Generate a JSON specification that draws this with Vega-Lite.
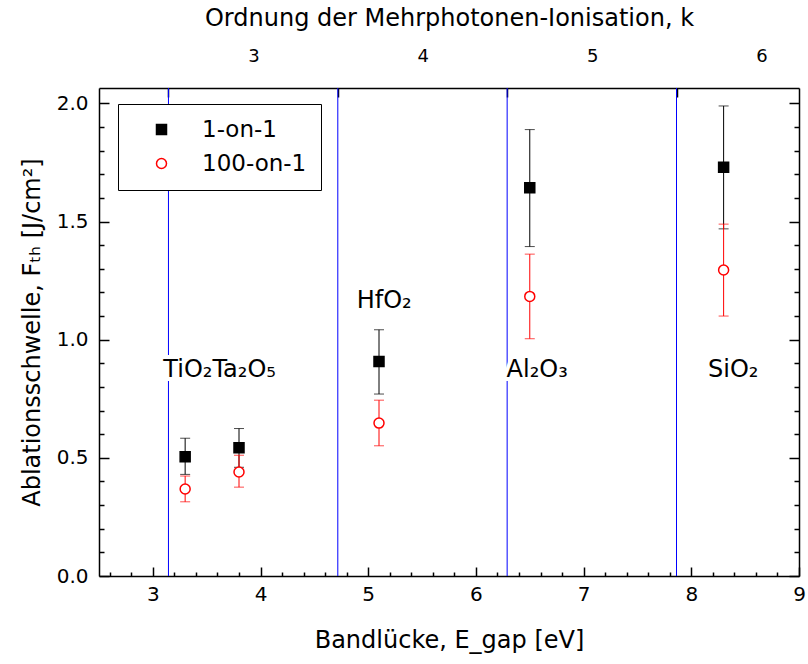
{
  "$schema": "https://vega.github.io/schema/vega-lite/v6.json",
  "width": 700,
  "height": 488,
  "autosize": {"type": "none"},
  "padding": {"left": 99, "top": 88, "right": 9, "bottom": 88},
  "background": "white",
  "config": {
    "font": "DejaVu Sans",
    "view": {"stroke": null},
    "axis": {
      "grid": false,
      "domainColor": "black",
      "domainWidth": 1.5,
      "tickColor": "black",
      "tickWidth": 1.5,
      "labelColor": "black",
      "titleColor": "black",
      "labelFont": "DejaVu Sans",
      "titleFont": "DejaVu Sans",
      "titleFontWeight": "normal",
      "labelFontSize": 20,
      "titleFontSize": 24,
      "labelFlush": false,
      "labelOverlap": false,
      "labelAngle": 0
    },
    "legend": {
      "orient": "none",
      "legendX": 19,
      "legendY": 16,
      "strokeColor": "black",
      "fillColor": "white",
      "padding": 14,
      "labelFontSize": 23,
      "labelFont": "DejaVu Sans",
      "labelColor": "black",
      "symbolSize": 100,
      "symbolStrokeWidth": 1.5,
      "symbolOffset": 18,
      "labelOffset": 29,
      "rowPadding": 10,
      "labelLimit": 300
    }
  },
  "datasets": {
    "pts": [
      {"material": "TiO2", "E": 3.3, "series": "1-on-1", "F": 0.505, "lo": 0.43, "hi": 0.583},
      {"material": "TiO2", "E": 3.3, "series": "100-on-1", "F": 0.368, "lo": 0.314, "hi": 0.423},
      {"material": "Ta2O5", "E": 3.8, "series": "1-on-1", "F": 0.543, "lo": 0.46, "hi": 0.624},
      {"material": "Ta2O5", "E": 3.8, "series": "100-on-1", "F": 0.44, "lo": 0.376, "hi": 0.511},
      {"material": "HfO2", "E": 5.1, "series": "1-on-1", "F": 0.908, "lo": 0.77, "hi": 1.042},
      {"material": "HfO2", "E": 5.1, "series": "100-on-1", "F": 0.647, "lo": 0.551, "hi": 0.744},
      {"material": "Al2O3", "E": 6.5, "series": "1-on-1", "F": 1.643, "lo": 1.394, "hi": 1.889},
      {"material": "Al2O3", "E": 6.5, "series": "100-on-1", "F": 1.183, "lo": 1.004, "hi": 1.362},
      {"material": "SiO2", "E": 8.3, "series": "1-on-1", "F": 1.73, "lo": 1.469, "hi": 1.989},
      {"material": "SiO2", "E": 8.3, "series": "100-on-1", "F": 1.295, "lo": 1.1, "hi": 1.489}
    ],
    "lines": [
      {"k": 3, "E": 3.145},
      {"k": 4, "E": 4.7175},
      {"k": 5, "E": 6.29},
      {"k": 6, "E": 7.8625}
    ],
    "labels": [
      {"text": "TiO₂Ta₂O₅", "E": 3.097, "F": 0.8425},
      {"text": "HfO₂", "E": 4.893, "F": 1.135},
      {"text": "Al₂O₃", "E": 6.285, "F": 0.8425},
      {"text": "SiO₂", "E": 8.155, "F": 0.8425}
    ]
  },
  "resolve": {"axis": {"x": "independent", "y": "independent"}},
  "layer": [
    {
      "data": {"name": "lines"},
      "mark": {"type": "rule", "color": "#0000ff", "strokeWidth": 1},
      "encoding": {
        "x": {
          "field": "E", "type": "quantitative",
          "scale": {"domain": [2.5, 9], "nice": false, "zero": false},
          "axis": {
            "orient": "top",
            "values": [3.145, 4.7175, 6.29, 7.8625],
            "labelExpr": "format(round(datum.value/1.5725)+1,'d')",
            "labelOffset": 85,
            "tickSize": -9,
            "labelPadding": 32,
            "labelFontSize": 18,
            "title": "Ordnung der Mehrphotonen-Ionisation, k",
            "titlePadding": 17
          }
        }
      }
    },
    {
      "data": {"name": "pts"},
      "transform": [{"filter": "datum.series === '1-on-1'"}],
      "mark": {"type": "rule", "color": "black", "strokeWidth": 1},
      "encoding": {
        "x": {
          "field": "E", "type": "quantitative",
          "scale": {"domain": [2.5, 9], "nice": false, "zero": false},
          "axis": {
            "orient": "bottom",
            "values": [2.6, 2.8, 3, 3.2, 3.4, 3.6, 3.8, 4, 4.2, 4.4, 4.6, 4.8, 5, 5.2, 5.4, 5.6, 5.8, 6, 6.2, 6.4, 6.6, 6.8, 7, 7.2, 7.4, 7.6, 7.8, 8, 8.2, 8.4, 8.6, 8.8, 9],
            "labelExpr": "abs(datum.value-round(datum.value))<0.001 ? format(datum.value,'d') : ''",
            "tickSize": -9,
            "tickDash": {"condition": {"test": "abs(datum.value-round(datum.value))<0.001", "value": []}, "value": [4, 60]},
            "labelPadding": 17,
            "title": "Bandlücke, E_gap [eV]",
            "titlePadding": 24
          }
        },
        "y": {
          "field": "lo", "type": "quantitative",
          "scale": {"domain": [0, 2.065], "nice": false, "zero": false},
          "axis": {
            "orient": "left",
            "values": [0, 0.1, 0.2, 0.3, 0.4, 0.5, 0.6, 0.7, 0.8, 0.9, 1, 1.1, 1.2, 1.3, 1.4, 1.5, 1.6, 1.7, 1.8, 1.9, 2],
            "labelExpr": "abs(datum.value*2-round(datum.value*2))<0.001 ? format(datum.value,'.1f') : ''",
            "tickSize": -10,
            "tickDash": {"condition": {"test": "abs(datum.value*2-round(datum.value*2))<0.001", "value": []}, "value": [5, 60]},
            "labelPadding": 21,
            "title": "Ablationsschwelle, Fₜₕ [J/cm²]",
            "titlePadding": 12
          }
        },
        "y2": {"field": "hi"}
      }
    },
    {
      "data": {"name": "pts"},
      "transform": [{"filter": "datum.series === '1-on-1'"}, {"fold": ["lo", "hi"], "as": ["end", "val"]}],
      "mark": {"type": "tick", "orient": "horizontal", "color": "black", "size": 10, "thickness": 1},
      "encoding": {
        "x": {"field": "E", "type": "quantitative", "scale": {"domain": [2.5, 9], "nice": false, "zero": false}, "axis": null},
        "y": {"field": "val", "type": "quantitative", "scale": {"domain": [0, 2.065], "nice": false, "zero": false}, "axis": null}
      }
    },
    {
      "data": {"name": "pts"},
      "transform": [{"filter": "datum.series === '100-on-1'"}],
      "mark": {"type": "rule", "color": "#ff0000", "strokeWidth": 1},
      "encoding": {
        "x": {"field": "E", "type": "quantitative", "scale": {"domain": [2.5, 9], "nice": false, "zero": false}, "axis": null},
        "y": {"field": "lo", "type": "quantitative", "scale": {"domain": [0, 2.065], "nice": false, "zero": false}, "axis": null},
        "y2": {"field": "hi"}
      }
    },
    {
      "data": {"name": "pts"},
      "transform": [{"filter": "datum.series === '100-on-1'"}, {"fold": ["lo", "hi"], "as": ["end", "val"]}],
      "mark": {"type": "tick", "orient": "horizontal", "color": "#ff0000", "size": 10, "thickness": 1},
      "encoding": {
        "x": {"field": "E", "type": "quantitative", "scale": {"domain": [2.5, 9], "nice": false, "zero": false}, "axis": null},
        "y": {"field": "val", "type": "quantitative", "scale": {"domain": [0, 2.065], "nice": false, "zero": false}, "axis": null}
      }
    },
    {
      "data": {"name": "pts"},
      "mark": {"type": "point", "size": 100, "strokeWidth": 1.5, "opacity": 1},
      "encoding": {
        "x": {"field": "E", "type": "quantitative", "scale": {"domain": [2.5, 9], "nice": false, "zero": false}, "axis": null},
        "y": {
          "field": "F", "type": "quantitative",
          "scale": {"domain": [0, 2.065], "nice": false, "zero": false},
          "axis": {
            "orient": "right",
            "values": [0, 0.1, 0.2, 0.3, 0.4, 0.5, 0.6, 0.7, 0.8, 0.9, 1, 1.1, 1.2, 1.3, 1.4, 1.5, 1.6, 1.7, 1.8, 1.9, 2],
            "labels": false,
            "tickSize": -10,
            "tickDash": {"condition": {"test": "abs(datum.value*2-round(datum.value*2))<0.001", "value": []}, "value": [5, 60]},
            "title": null
          }
        },
        "shape": {"field": "series", "type": "nominal", "scale": {"domain": ["1-on-1", "100-on-1"], "range": ["square", "circle"]}, "legend": {"title": null}},
        "stroke": {"field": "series", "type": "nominal", "scale": {"domain": ["1-on-1", "100-on-1"], "range": ["black", "#ff0000"]}, "legend": {"title": null}},
        "fill": {"field": "series", "type": "nominal", "scale": {"domain": ["1-on-1", "100-on-1"], "range": ["black", "white"]}, "legend": {"title": null}}
      }
    },
    {
      "data": {"name": "labels"},
      "mark": {"type": "text", "align": "left", "baseline": "alphabetic", "fontSize": 24, "font": "DejaVu Sans", "stroke": "white", "strokeWidth": 8, "fill": "white"},
      "encoding": {
        "x": {"field": "E", "type": "quantitative", "scale": {"domain": [2.5, 9], "nice": false, "zero": false}, "axis": null},
        "y": {"field": "F", "type": "quantitative", "scale": {"domain": [0, 2.065], "nice": false, "zero": false}, "axis": null},
        "text": {"field": "text"}
      }
    },
    {
      "data": {"name": "labels"},
      "mark": {"type": "text", "align": "left", "baseline": "alphabetic", "fontSize": 24, "font": "DejaVu Sans", "color": "black"},
      "encoding": {
        "x": {"field": "E", "type": "quantitative", "scale": {"domain": [2.5, 9], "nice": false, "zero": false}, "axis": null},
        "y": {"field": "F", "type": "quantitative", "scale": {"domain": [0, 2.065], "nice": false, "zero": false}, "axis": null},
        "text": {"field": "text"}
      }
    }
  ]
}
